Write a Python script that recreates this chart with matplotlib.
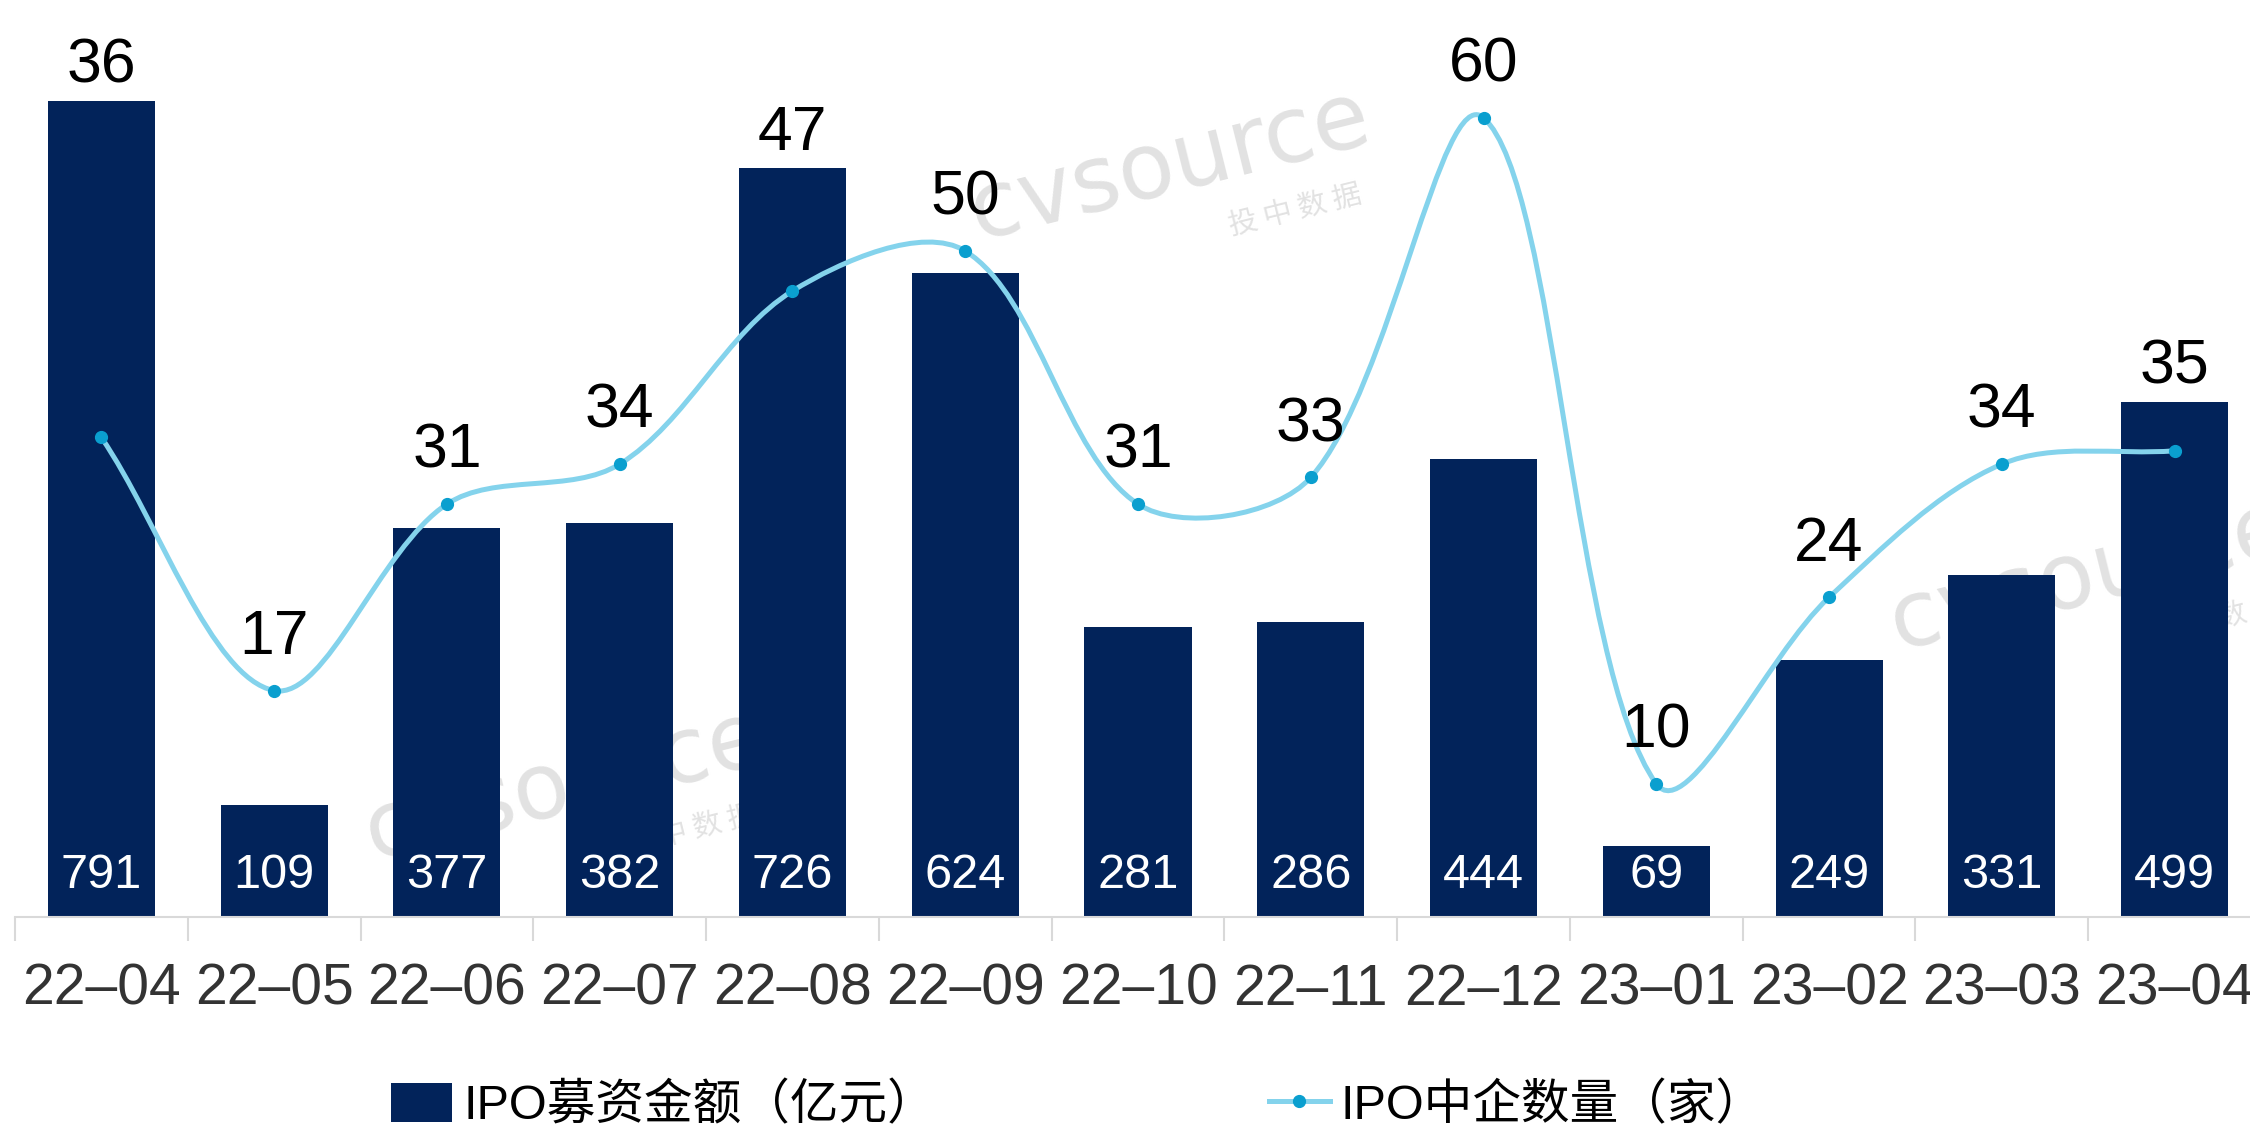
import numpy as np
import matplotlib
matplotlib.use('Agg')
import matplotlib.pyplot as plt
from matplotlib.path import Path
from matplotlib.patches import PathPatch, Patch
from matplotlib.lines import Line2D

plt.rcParams['font.family'] = ['Liberation Sans', 'Noto Sans CJK SC', 'DejaVu Sans']

months = ['22–04', '22–05', '22–06', '22–07', '22–08', '22–09', '22–10',
          '22–11', '22–12', '23–01', '23–02', '23–03', '23–04']
ipo_amount = [791, 109, 377, 382, 726, 624, 281, 286, 444, 69, 249, 331, 499]
ipo_count = [36, 17, 31, 34, 47, 50, 31, 33, 60, 10, 24, 34, 35]

bar_color = '#02235a'
line_color = '#84d3ec'
marker_color = '#0a9fcf'

W, H = 2250, 1132
fig = plt.figure(figsize=(W / 100, H / 100), dpi=100)

# axes box in pixels: baseline at y=917, right edge runs past the figure
left_px, right_px, base_px, top_px = 15, 2261, 917, 7
ax = fig.add_axes([left_px / W, 1 - base_px / H,
                   (right_px - left_px) / W, (base_px - top_px) / H])
ax2 = ax.twinx()

px_per_amt = 1.032
px_per_cnt = 13.32
ax.set_ylim(0, (base_px - top_px) / px_per_amt)
ax2.set_ylim(0, (base_px - top_px) / px_per_cnt)
x = np.arange(len(months))
ax.set_xlim(-0.5, len(months) - 0.5)
ax2.set_xlim(-0.5, len(months) - 0.5)

ax.bar(x, ipo_amount, width=0.62, color=bar_color, zorder=2)

# smooth line, Excel-like: bezier tangents scaled by chord lengths in screen space
pts = ax2.transData.transform(np.column_stack([x, ipo_count]).astype(float))
ext = np.vstack([pts[0], pts, pts[-1]])
verts = [pts[0]]
codes = [Path.MOVETO]
for i in range(len(pts) - 1):
    p0, p1, p2, p3 = ext[i], ext[i + 1], ext[i + 2], ext[i + 3]
    d01 = np.hypot(*(p1 - p0))
    d12 = np.hypot(*(p2 - p1))
    d23 = np.hypot(*(p3 - p2))
    f1 = d12 / (d01 + d12) / 3 if d01 + d12 > 0 else 0
    f2 = d12 / (d12 + d23) / 3 if d12 + d23 > 0 else 0
    c1 = p1 + (p2 - p0) * f1
    c2 = p2 - (p3 - p1) * f2
    verts += [c1, c2, p2]
    codes += [Path.CURVE4] * 3
verts = ax2.transData.inverted().transform(np.array(verts))
ax2.add_patch(PathPatch(Path(verts, codes), facecolor='none',
                        edgecolor=line_color, lw=3.6, zorder=3))
ax2.plot(x, ipo_count, 'o', color=marker_color, ms=8.5, zorder=4)

# count labels above the point, or above the bar when the bar is higher
for xi, amt, cnt in zip(x, ipo_amount, ipo_count):
    bar_top = amt * px_per_amt / px_per_cnt
    if bar_top > cnt:
        anchor, off = bar_top, 25
    else:
        anchor, off = cnt, 38
    ax2.annotate(str(cnt), (xi, anchor), xytext=(0, off), textcoords='offset points',
                 ha='center', va='center', fontsize=45, color='black', zorder=5)
    ax.annotate(str(amt), (xi, 0), xytext=(0, 30), textcoords='offset points',
                ha='center', va='center', fontsize=35, color='white', zorder=5)

# axis styling
for a in (ax, ax2):
    for s in ['top', 'right', 'left']:
        a.spines[s].set_visible(False)
ax2.spines['bottom'].set_visible(False)
ax.spines['bottom'].set_color('#d9d9d9')
ax.spines['bottom'].set_linewidth(1.5)
ax.set_yticks([])
ax2.set_yticks([])
ax.set_xticks(x)
ax.set_xticklabels(months, fontsize=41, color='#333333')
ax.tick_params(axis='x', length=0, pad=33)
ax.set_xticks(np.arange(-0.5, len(months), 1), minor=True)
ax.tick_params(axis='x', which='minor', length=17, width=1.5, color='#d9d9d9')

# watermark
wm = dict(transform=fig.transFigure, color='#e2e2e2', rotation=14,
          ha='center', va='center', zorder=0.5, clip_on=False)
for cx, cy in [(1170, 165), (565, 785), (2090, 575)]:
    ax.text(cx / W, 1 - cy / H, 'cvsource', fontsize=66, family='DejaVu Sans', **wm)
    ax.text((cx + 125) / W, 1 - (cy + 47) / H, '投 中 数 据', fontsize=21,
            family='Noto Sans CJK SC', **wm)

handles = [Patch(facecolor=bar_color, label='IPO募资金额（亿元）'),
           Line2D([0], [0], color=line_color, lw=3.6, marker='o', ms=8.5,
                  mfc=marker_color, mec=marker_color, label='IPO中企数量（家）')]
fig.legend(handles=handles, loc='center', bbox_to_anchor=(1078 / W, 1 - 1106 / H),
           ncol=2, frameon=False, fontsize=35, handlelength=1.25, handleheight=0.88,
           handletextpad=0.23, columnspacing=6.85)

fig.savefig('out.png', dpi=100)
